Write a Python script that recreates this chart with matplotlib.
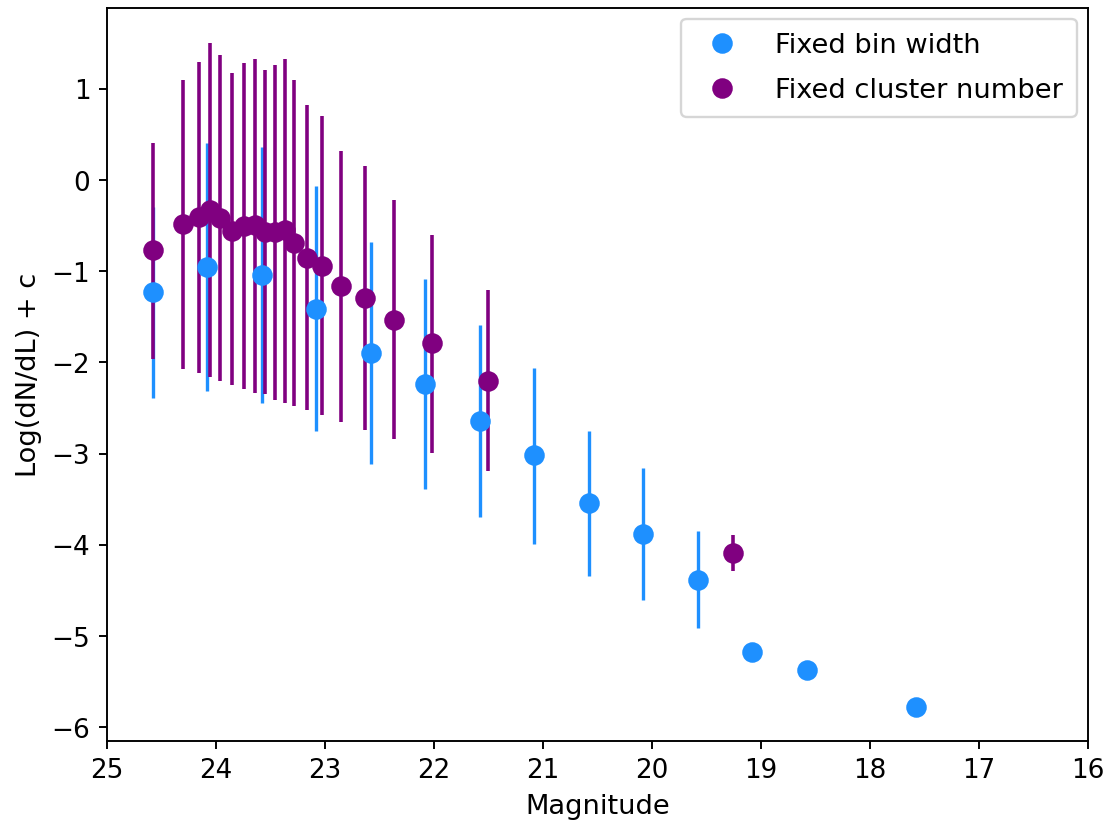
import matplotlib
matplotlib.use("Agg")
import matplotlib.pyplot as plt

# fixed bin width
bin_mag = [24.58, 24.08, 23.58, 23.08, 22.58, 22.08, 21.58, 21.08, 20.58, 20.08, 19.58, 19.08, 18.58, 17.58]
bin_val = [-1.23, -0.95, -1.04, -1.41, -1.90, -2.24, -2.64, -3.02, -3.54, -3.88, -4.39, -5.18, -5.37, -5.78]
bin_top = [-0.3, 0.41, 0.36, -0.07, -0.68, -1.08, -1.59, -2.06, -2.75, -3.16, -3.85, -5.18, -5.37, -5.78]
bin_bot = [-2.39, -2.31, -2.44, -2.75, -3.11, -3.39, -3.70, -3.99, -4.34, -4.60, -4.91, -5.18, -5.37, -5.78]

# fixed cluster number
cl_mag = [24.58, 24.30, 24.16, 24.055, 23.96, 23.85, 23.74, 23.645, 23.55, 23.455,
          23.37, 23.28, 23.165, 23.03, 22.85, 22.63, 22.37, 22.015, 21.50, 19.26]
cl_val = [-0.77, -0.48, -0.41, -0.33, -0.42, -0.56, -0.50, -0.49, -0.57, -0.57,
          -0.55, -0.69, -0.85, -0.94, -1.16, -1.29, -1.53, -1.79, -2.20, -4.09]
cl_top = [0.41, 1.10, 1.29, 1.50, 1.37, 1.17, 1.28, 1.33, 1.21, 1.26,
          1.33, 1.10, 0.82, 0.70, 0.32, 0.15, -0.22, -0.60, -1.21, -3.89]
cl_bot = [-1.96, -2.07, -2.12, -2.16, -2.20, -2.25, -2.29, -2.33, -2.35, -2.41,
          -2.44, -2.48, -2.52, -2.58, -2.65, -2.74, -2.84, -2.99, -3.19, -4.29]

blue = "#1e90ff"
purple = "#800080"

fig = plt.figure(figsize=(6.5, 4.8), dpi=172)
plt.subplots_adjust(left=0.0957, right=0.973, bottom=0.1018, top=0.990)
ax = plt.gca()

bin_err = [[v - b for v, b in zip(bin_val, bin_bot)], [t - v for v, t in zip(bin_val, bin_top)]]
cl_err = [[v - b for v, b in zip(cl_val, cl_bot)], [t - v for v, t in zip(cl_val, cl_top)]]

ax.errorbar(bin_mag, bin_val, yerr=bin_err, fmt="none", ecolor=blue, elinewidth=1.4)
ax.errorbar(cl_mag, cl_val, yerr=cl_err, fmt="none", ecolor=purple, elinewidth=1.5)
ax.plot(bin_mag, bin_val, "o", color=blue, markersize=7.6, label="Fixed bin width")
ax.plot(cl_mag, cl_val, "o", color=purple, markersize=7.6, label="Fixed cluster number")

ax.set_xlim(25, 16)
ax.set_ylim(-6.15, 1.89)
ax.set_xticks(range(25, 15, -1))
ax.set_yticks(range(-6, 2))
ax.tick_params(labelsize=11)
ax.set_xlabel("Magnitude", fontsize=11.4)
ax.set_ylabel("Log(dN/dL) + c", fontsize=11.4)
ax.legend(loc="upper right", fontsize=11.4, numpoints=1, handletextpad=0.95,
          borderaxespad=0.4, labelspacing=0.7, borderpad=0.5)

fig.savefig("out.png")
